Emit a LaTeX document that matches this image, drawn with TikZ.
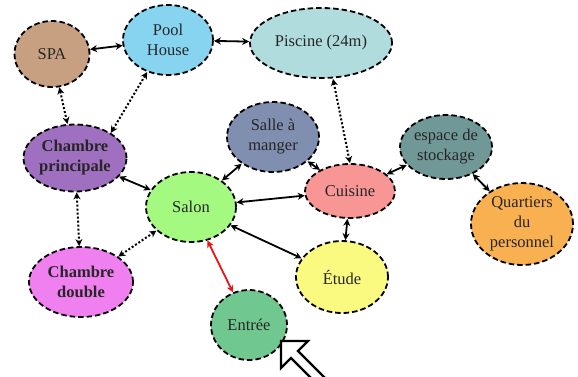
\documentclass[tikz,border=0pt]{standalone}
\usepackage{fontspec}
\setmainfont{Liberation Serif}
\usetikzlibrary{shapes.geometric,arrows.meta}
\definecolor{cspa}{RGB}{198,160,128}
\definecolor{cpool}{RGB}{135,212,240}
\definecolor{cpisc}{RGB}{176,220,222}
\definecolor{csalle}{RGB}{128,142,176}
\definecolor{cchp}{RGB}{160,112,192}
\definecolor{csalon}{RGB}{164,250,128}
\definecolor{cchd}{RGB}{240,128,240}
\definecolor{centree}{RGB}{112,200,144}
\definecolor{ccuis}{RGB}{248,150,150}
\definecolor{cetude}{RGB}{250,250,128}
\definecolor{cesp}{RGB}{112,152,150}
\definecolor{cquart}{RGB}{248,176,80}
\definecolor{cred}{RGB}{235,20,20}
\tikzset{
  room/.style={ellipse, draw=black, line width=1.8pt, dash pattern=on 5.5pt off 3pt, inner sep=0pt},
  txt/.style={align=center, font=\fontsize{16.5}{20}\selectfont, text=black!85, inner sep=0pt},
  link/.style={line width=1.8pt, {Stealth[length=7pt,width=7pt]}-{Stealth[length=7pt,width=7pt]}},
  dlink/.style={link, line width=2pt, dash pattern=on 2pt off 2pt},
}
\begin{document}
\begin{tikzpicture}[x=1pt,y=-1pt]
\useasboundingbox (0,0) rectangle (578,376);
\node[room, fill=cspa, minimum width=75, minimum height=66] (spa) at (52,54) {};
\node[txt] (spat) at (spa) {SPA};
\node[room, fill=cpool, minimum width=90, minimum height=70] (pool) at (168,40) {};
\node[txt] (poolt) at (pool) {Pool\\House};
\node[room, fill=cpisc, minimum width=142, minimum height=70] (pisc) at (321,43) {};
\node[txt] (pisct) at (pisc) {Piscine (24m)};
\node[room, fill=csalle, minimum width=92, minimum height=70] (salle) at (273,137) {};
\node[txt] (sallet) at (salle) {Salle à\\manger};
\node[room, fill=cchp, minimum width=103, minimum height=67] (chp) at (75,158) {};
\node[txt, font=\fontsize{16.5}{20}\selectfont\bfseries] (chpt) at (chp) {Chambre\\principale};
\node[room, fill=csalon, minimum width=90, minimum height=70] (salon) at (191,207) {};
\node[txt] (salont) at (salon) {Salon};
\node[room, fill=cchd, minimum width=104, minimum height=70] (chd) at (81,282) {};
\node[txt, font=\fontsize{16.5}{20}\selectfont\bfseries] (chdt) at (chd) {Chambre\\double};
\node[room, fill=centree, minimum width=76, minimum height=70] (entree) at (249,325) {};
\node[txt] (entreet) at (entree) {Entrée};
\node[room, fill=ccuis, minimum width=90, minimum height=54] (cuis) at (350,191) {};
\node[txt] (cuist) at (cuis) {Cuisine};
\node[room, fill=cesp, minimum width=92, minimum height=64] (esp) at (446,147) {};
\node[txt] (espt) at (esp) {espace de\\stockage};
\node[room, fill=cquart, minimum width=102, minimum height=82] (quart) at (522,224) {};
\node[txt] (quartt) at (quart) {Quartiers\\du\\personnel};
\node[room, fill=cetude, minimum width=92, minimum height=72] (etude) at (342,277) {};
\node[txt] (etudet) at (etude) {Étude};

\draw[link] (spa) -- (pool);
\draw[link] (pool) -- (pisc);
\draw[dlink] (spa) -- (chp);
\draw[dlink] (pool.237) -- (chp.35);
\draw[dlink] (pisc.south) ++(12,0) coordinate (pb) (pb) -- (cuis.north);
\draw[link] (salle) -- (salon);
\draw[link] (salle) -- (cuis);
\draw[link] (salon) -- (chp);
\draw[link] (cuis) -- (salon);
\draw[link] (salon) -- (etude);
\draw[link] (cuis) -- (etude);
\draw[link] (cuis) -- (esp);
\draw[link] (esp) -- (quart);
\draw[dlink] (chp) -- (chd);
\draw[dlink] (chd) -- (salon);
\draw[link, draw=cred, fill=cred] (salon) -- (entree);

\begin{scope}
\clip (0,0) rectangle (578,376);
\draw[line width=2.2pt, fill=white, line join=miter]
  (281,341) coordinate (tip) -- (308,341) -- (298,351) -- (326,379) -- (319,386) -- (291,358) -- (281,368) -- cycle;
\end{scope}
\end{tikzpicture}
\end{document}
